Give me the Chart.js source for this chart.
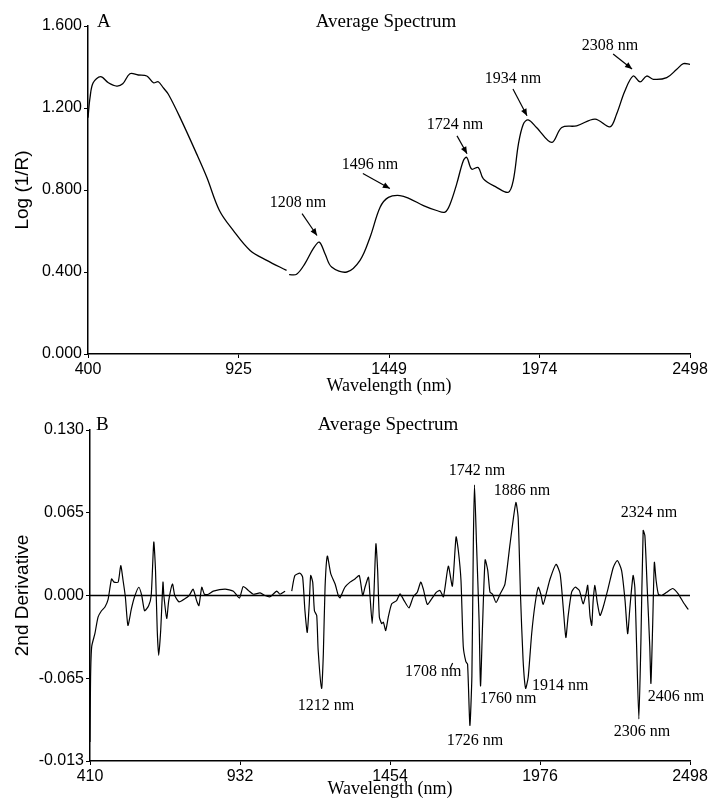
<!DOCTYPE html>
<html><head><meta charset="utf-8">
<script src="https://cdn.jsdelivr.net/npm/chart.js@4/dist/chart.umd.min.js"></script>
<style>
html,body{margin:0;padding:0;background:#fff;}
#wrapA{position:absolute;left:0;top:0;width:710px;height:402px;}
#wrapB{position:absolute;left:0;top:402px;width:710px;height:400px;}
</style></head><body>
<div id="wrapA"><canvas id="chartA" width="710" height="402"></canvas></div>
<div id="wrapB"><canvas id="chartB" width="710" height="400"></canvas></div>
<script>
// ---------- DATA ----------
const wavelengthA = [400,407,418,444,471,500,521,546,575,605,628,645,662,680,721,779,814,858,906,965,1023,1092,1096,1101,1127,1156,1185,1206,1226,1249,1302,1348,1383,1418,1447,1487,1522,1569,1615,1644,1662,1685,1708,1720,1737,1760,1778,1824,1865,1882,1900,1917,1934,1963,2016,2051,2103,2167,2219,2242,2271,2300,2324,2347,2370,2417,2452,2475,2498];
const logInvR = [1.153,1.25,1.323,1.353,1.323,1.307,1.318,1.367,1.361,1.356,1.323,1.328,1.299,1.267,1.153,0.975,0.862,0.70,0.603,0.505,0.457,0.408,null,0.387,0.389,0.441,0.514,0.546,0.489,0.424,0.40,0.457,0.57,0.716,0.764,0.773,0.757,0.724,0.70,0.692,0.732,0.83,0.943,0.959,0.902,0.91,0.854,0.813,0.789,0.846,1.024,1.121,1.142,1.105,1.032,1.105,1.113,1.146,1.108,1.17,1.283,1.356,1.327,1.356,1.34,1.348,1.389,1.416,1.413];

const wavelengthB = [410,412,416,427,438,450,462,473,485,494,508,517,525,533,542,554,565,580,590,600,614,623,632,638,644,649,656,664,667,677,684,697,705,720,740,755,769,781,789,799,808,822,839,880,909,930,943,961,978,1002,1019,1036,1060,1071,1089,1100,1112,1123,1141,1150,1158,1166,1173,1178,1185,1191,1199,1204,1216,1222,1228,1236,1248,1263,1274,1280,1297,1315,1332,1347,1359,1367,1379,1384,1392,1398,1405,1411,1417,1425,1431,1439,1448,1460,1477,1489,1503,1520,1535,1549,1561,1570,1584,1599,1616,1628,1640,1657,1671,1684,1692,1701,1709,1718,1724,1732,1739,1744,1748,1755,1764,1769,1776,1785,1794,1802,1811,1823,1837,1854,1872,1892,1900,1908,1917,1926,1935,1947,1959,1970,1979,1987,1999,2011,2032,2046,2057,2066,2074,2086,2098,2113,2126,2136,2142,2150,2156,2161,2167,2175,2185,2196,2214,2231,2245,2260,2272,2281,2289,2300,2306,2312,2320,2327,2335,2341,2349,2358,2362,2368,2374,2380,2388,2399,2417,2438,2457,2475,2492];
const secondDeriv = [-0.115,-0.064,-0.040,-0.030,-0.017,-0.012,-0.009,-0.003,0.013,0.0105,0.0105,0.0235,0.012,-0.001,-0.0235,-0.0105,-0.001,0.0065,0,-0.012,-0.008,0,0.042,0.0196,-0.0275,-0.047,-0.0275,0.0105,0,-0.018,-0.004,0.009,0,-0.005,-0.0026,0,0.005,-0.004,-0.008,0.0065,0.001,0.001,0.0034,0.005,0.0034,-0.002,0.007,0.004,0.001,0.002,0,-0.001,0.0034,0.001,0.0034,null,0.0034,0.0157,0.0175,0.0144,-0.012,-0.029,-0.0065,0.0157,0.0105,-0.012,-0.0157,-0.043,-0.073,-0.046,0.0065,0.031,0.017,0.009,0,-0.0018,0.0065,0.0105,0.013,0.0157,0,0.0065,0.0144,0.001,-0.022,0.001,0.0406,0.0196,-0.017,-0.022,-0.021,-0.0275,-0.017,-0.0065,-0.004,0.0013,-0.004,-0.0097,-0.001,0.0026,0.0105,0.005,-0.007,-0.0026,0.0026,0.004,-0.001,0.023,0.0073,0.046,0.035,0.012,-0.040,-0.052,-0.054,-0.102,-0.063,0.041,0.087,0.041,-0.019,-0.071,-0.024,0.028,0.020,0.0026,0.001,-0.0055,0.001,0.009,0.041,0.073,0.061,0.001,-0.050,-0.073,-0.064,-0.030,-0.0065,0.0065,0.001,-0.007,0.0026,0.013,0.0245,0.017,-0.010,-0.033,-0.016,0.0026,0.0065,0.004,-0.0065,0.001,0.008,-0.016,-0.0235,-0.004,0.008,-0.005,-0.0157,-0.009,0.0065,0.022,0.0275,0.0196,-0.004,-0.030,-0.009,0.0157,0.0065,-0.038,-0.097,-0.038,0.051,0.047,0.0065,-0.040,-0.069,-0.024,0.026,0.012,0.001,0,0.0026,0.0055,0.0013,-0.0055,-0.011];
const baselineB = [0, 0];
const baselineRangeB = [410, 2498];

const xTickValsA = [400, 924.5, 1449, 1973.5, 2498];
const xTickLabelsA = ['400','925','1449','1974','2498'];
const yTickValsA = [0, 0.4, 0.8, 1.2, 1.6];
const yTickLabelsA = ['0.000','0.400','0.800','1.200','1.600'];
const xTickValsB = [410, 932, 1454, 1976, 2498];
const xTickLabelsB = ['410','932','1454','1976','2498'];
const yTickValsB = [-0.13, -0.065, 0, 0.065, 0.13];
const yTickLabelsB = ['-0.013','-0.065','0.000','0.065','0.130'];

const peakLabelsA = ['1208 nm','1496 nm','1724 nm','1934 nm','2308 nm'];
const peakLabelsB = ['1212 nm','1742 nm','1886 nm','2324 nm','1708 nm','1760 nm','1914 nm','2406 nm','1726 nm','2306 nm'];

// ---------- LAYOUT (annotation placement in data coords) ----------
const layoutA = [
  {tx:1132, ty:0.739, a:[1146,0.685,1198,0.578]},
  {tx:1383, ty:0.923, a:[1358,0.880,1452,0.807]},
  {tx:1679, ty:1.118, a:[1686,1.064,1721,0.977]},
  {tx:1881, ty:1.341, a:[1881,1.293,1930,1.162]},
  {tx:2219, ty:1.502, a:[2230,1.463,2296,1.390]}
];
const layoutB = [
  {tx:1231, ty:-0.0864},{tx:1757, ty:0.098},{tx:1913, ty:0.0824},{tx:2355, ty:0.065},
  {tx:1604, ty:-0.0597, lead:[1662,-0.058,1672,-0.053]},{tx:1865, ty:-0.0809},{tx:2046, ty:-0.0707},
  {tx:2449, ty:-0.0793},{tx:1750, ty:-0.1138},{tx:2331, ty:-0.1068}
];

Chart.defaults.animation = false;
Chart.defaults.devicePixelRatio = 1;

const annotPlugin = {
  id: 'annot',
  afterDatasetsDraw(chart, args, o) {
    const ctx = chart.ctx, xs = chart.scales.x, ys = chart.scales.y;
    ctx.save();
    ctx.fillStyle = '#000'; ctx.strokeStyle = '#000';
    ctx.textBaseline = 'middle';
    ctx.font = '19px "Liberation Serif"';
    ctx.textAlign = 'left'; ctx.fillText(o.letter, o.letterX, o.headY);
    ctx.textAlign = 'center'; ctx.fillText(o.title, o.titleX, o.headY);
    ctx.font = '16px "Liberation Serif"';
    o.labels.forEach((t, i) => {
      const L = o.layout[i];
      ctx.fillText(t, xs.getPixelForValue(L.tx), ys.getPixelForValue(L.ty));
      const seg = L.a || L.lead;
      if (seg) {
        const x0 = xs.getPixelForValue(seg[0]), y0 = ys.getPixelForValue(seg[1]);
        const x1 = xs.getPixelForValue(seg[2]), y1 = ys.getPixelForValue(seg[3]);
        ctx.lineWidth = 1.2;
        ctx.beginPath(); ctx.moveTo(x0, y0); ctx.lineTo(x1, y1); ctx.stroke();
        if (L.a) {
          const ang = Math.atan2(y1 - y0, x1 - x0), h = 7, w = 3;
          ctx.beginPath();
          ctx.moveTo(x1, y1);
          ctx.lineTo(x1 - h*Math.cos(ang) + w*Math.sin(ang), y1 - h*Math.sin(ang) - w*Math.cos(ang));
          ctx.lineTo(x1 - h*Math.cos(ang) - w*Math.sin(ang), y1 - h*Math.sin(ang) + w*Math.cos(ang));
          ctx.closePath(); ctx.fill();
        }
      }
    });
    ctx.restore();
  }
};

function axes(cfg) {
  const tickFont = {family: 'Liberation Sans', size: 16};
  return {
    x: {
      type: 'linear', min: cfg.xmin, max: cfg.xmax,
      afterBuildTicks: s => { s.ticks = cfg.xVals.map(v => ({value: v})); },
      afterFit: s => { s.height = cfg.xh; },
      ticks: {callback: (v, i) => cfg.xLabels[i], font: tickFont, color: '#000', padding: 2, maxRotation: 0, autoSkip: false},
      grid: {display: true, drawOnChartArea: false, drawTicks: true, tickLength: 4, color: '#000', lineWidth: 1},
      border: {display: true, color: '#000', width: 1.5},
      title: {display: true, text: 'Wavelength (nm)', font: {family: 'Liberation Serif', size: 18}, color: '#000', padding: {top: 0, bottom: cfg.xtpad}}
    },
    y: {
      type: 'linear', min: cfg.ymin, max: cfg.ymax,
      afterBuildTicks: s => { s.ticks = cfg.yVals.map(v => ({value: v})); },
      afterFit: s => { s.width = cfg.yw; },
      ticks: {callback: (v, i) => cfg.yLabels[i], font: tickFont, color: '#000', padding: 2, autoSkip: false},
      grid: {display: true, drawOnChartArea: false, drawTicks: true, tickLength: 4, color: '#000', lineWidth: 1},
      border: {display: true, color: '#000', width: 1.5},
      title: {display: true, text: cfg.ytitle, font: {family: 'Liberation Sans', size: 19}, color: '#000', padding: {top: 11, bottom: 0}}
    }
  };
}

new Chart(document.getElementById('chartA'), {
  type: 'line',
  data: {datasets: [{
    data: wavelengthA.map((w, i) => ({x: w, y: logInvR[i]})),
    borderColor: '#000', borderWidth: 1.3, pointRadius: 0, tension: 0.35, spanGaps: false, fill: false
  }]},
  options: {
    responsive: false, animation: false,
    layout: {padding: {top: 26, right: 20, left: 0, bottom: 0}},
    plugins: {legend: {display: false}, tooltip: {enabled: false},
      annot: {letter: 'A', letterX: 97, title: 'Average Spectrum', titleX: 386, headY: 22, labels: peakLabelsA, layout: layoutA}},
    scales: axes({xmin: 400, xmax: 2498, xVals: xTickValsA, xLabels: xTickLabelsA, xh: 48, xtpad: 5,
      ymin: 0, ymax: 1.6, yVals: yTickValsA, yLabels: yTickLabelsA, yw: 88, ytitle: 'Log (1/R)'})
  },
  plugins: [annotPlugin]
});

new Chart(document.getElementById('chartB'), {
  type: 'line',
  data: {datasets: [
    {data: wavelengthB.map((w, i) => ({x: w, y: secondDeriv[i]})),
     borderColor: '#000', borderWidth: 1.2, pointRadius: 0, tension: 0.2, spanGaps: false, fill: false},
    {data: baselineRangeB.map((w, i) => ({x: w, y: baselineB[i]})),
     borderColor: '#000', borderWidth: 1.5, pointRadius: 0, tension: 0, fill: false}
  ]},
  options: {
    responsive: false, animation: false,
    layout: {padding: {top: 28, right: 20, left: 0, bottom: 0}},
    plugins: {legend: {display: false}, tooltip: {enabled: false},
      annot: {letter: 'B', letterX: 96, title: 'Average Spectrum', titleX: 388, headY: 23, labels: peakLabelsB, layout: layoutB}},
    scales: axes({xmin: 410, xmax: 2498, xVals: xTickValsB, xLabels: xTickLabelsB, xh: 41, xtpad: 2,
      ymin: -0.13, ymax: 0.13, yVals: yTickValsB, yLabels: yTickLabelsB, yw: 90, ytitle: '2nd Derivative'})
  },
  plugins: [annotPlugin]
});
</script>
</body></html>
